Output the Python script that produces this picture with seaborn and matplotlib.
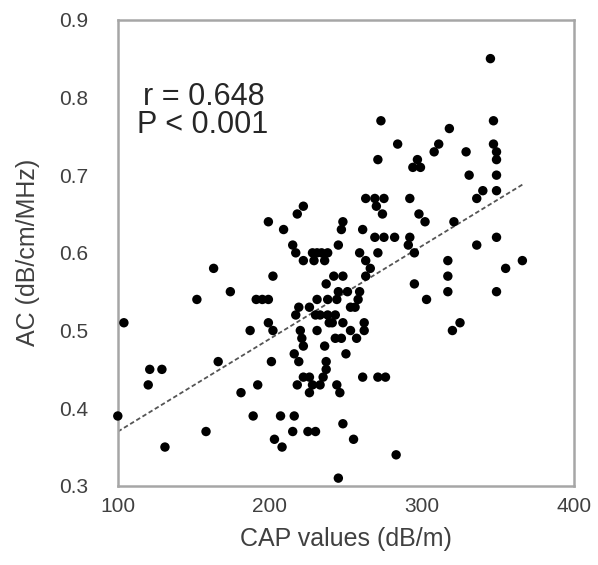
import pandas as pd
import matplotlib
matplotlib.use("Agg")
import matplotlib.pyplot as plt
import seaborn as sns

# CAP (dB/m) y AC (dB/cm/MHz)
cap = [100, 104, 121, 129, 120, 131, 158, 166, 163, 152, 174, 181, 192, 189, 187,
       191, 195, 199, 199, 209, 202, 199, 202, 201, 207, 216, 203, 208, 215, 225,
       230, 215, 217, 222, 218, 222, 228, 231, 234, 238, 229, 236, 231, 238, 244,
       219, 217, 230, 238, 243, 220, 231, 221, 222, 216, 219, 222, 226, 218, 228,
       233, 226, 237, 242, 248, 245, 251, 259, 258, 253, 256, 248, 253, 262, 262,
       243, 247, 257, 236, 250, 237, 237, 235, 261, 271, 276, 244, 246, 248, 255,
       283, 245, 248, 247, 261, 245, 259, 263, 266, 263, 263, 269, 275, 270, 274,
       269, 275, 282, 271, 273, 284, 271, 292, 298, 302, 321, 292, 291, 295, 318,
       311, 308, 329, 345, 347, 347, 349, 349, 297, 294, 299, 331, 349, 349, 340,
       336, 349, 336, 366, 355, 349, 317, 317, 317, 295, 303, 325, 320, 241, 239,
       233, 226]
ac = [0.39, 0.51, 0.45, 0.45, 0.43, 0.35, 0.37, 0.46, 0.58, 0.54, 0.55, 0.42, 0.43, 0.39, 0.50,
      0.54, 0.54, 0.54, 0.64, 0.63, 0.57, 0.51, 0.50, 0.46, 0.39, 0.39, 0.36, 0.35, 0.37, 0.37,
      0.37, 0.61, 0.60, 0.66, 0.65, 0.59, 0.60, 0.60, 0.60, 0.60, 0.59, 0.59, 0.54, 0.54, 0.54,
      0.53, 0.52, 0.52, 0.52, 0.52, 0.50, 0.50, 0.49, 0.48, 0.47, 0.46, 0.44, 0.44, 0.43, 0.43,
      0.43, 0.42, 0.56, 0.57, 0.57, 0.55, 0.55, 0.55, 0.54, 0.53, 0.53, 0.51, 0.50, 0.51, 0.50,
      0.49, 0.49, 0.49, 0.48, 0.47, 0.46, 0.45, 0.44, 0.44, 0.44, 0.44, 0.43, 0.42, 0.38, 0.36,
      0.34, 0.31, 0.64, 0.63, 0.63, 0.61, 0.60, 0.59, 0.58, 0.57, 0.67, 0.67, 0.67, 0.66, 0.65,
      0.62, 0.62, 0.62, 0.60, 0.77, 0.74, 0.72, 0.67, 0.65, 0.64, 0.64, 0.62, 0.61, 0.60, 0.76,
      0.74, 0.73, 0.73, 0.85, 0.77, 0.74, 0.73, 0.72, 0.72, 0.71, 0.71, 0.70, 0.70, 0.68, 0.68,
      0.67, 0.62, 0.61, 0.59, 0.58, 0.55, 0.59, 0.57, 0.55, 0.56, 0.54, 0.51, 0.50, 0.51, 0.51,
      0.52, 0.53]

x_ticks = [100, 200, 300, 400]
y_ticks = [0.3, 0.4, 0.5, 0.6, 0.7, 0.8, 0.9]
texto_r = "r = 0.648"
texto_p = "P < 0.001"

df = pd.DataFrame({"CAP": cap, "AC": ac})

sns.set_style("white")
plt.rcParams["font.family"] = ["Liberation Sans", "DejaVu Sans"]

fig = plt.figure(figsize=(5.98, 5.65), dpi=100)
ax = fig.add_axes([0.197, 0.140, 0.763, 0.825])

sns.regplot(data=df, x="CAP", y="AC", ci=None, ax=ax,
            scatter_kws=dict(s=46, color="black", edgecolor="none", alpha=1, clip_on=False, zorder=3),
            line_kws=dict(color="#555555", lw=1.3, ls=(0, (2.5, 1.5))))

ax.set_xlim(100, 400)
ax.set_ylim(0.3, 0.9)
ax.set_xticks(x_ticks)
ax.set_yticks(y_ticks)
ax.set_yticklabels([f"{v:.1f}" for v in y_ticks])

gris = "#a6a6a6"
for s in ax.spines.values():
    s.set_color(gris)
    s.set_linewidth(1.8)
ax.tick_params(axis="x", direction="in", length=7, width=1.5, color=gris,
               labelsize=15, labelcolor="#404040", pad=8)
ax.tick_params(axis="y", direction="inout", length=14, width=1.5, color=gris,
               labelsize=15, labelcolor="#404040", pad=14)

ax.set_xlabel("CAP values (dB/m)", fontsize=18, color="#404040", labelpad=8)
ax.set_ylabel("AC (dB/cm/MHz)", fontsize=18, color="#404040", labelpad=14)

ax.text(0.055, 0.835, texto_r, transform=ax.transAxes, fontsize=22, color="#262626",
        ha="left", va="center")
ax.text(0.042, 0.775, texto_p, transform=ax.transAxes, fontsize=22, color="#262626",
        ha="left", va="center")

fig.savefig("out.png", dpi=100, facecolor="white")
